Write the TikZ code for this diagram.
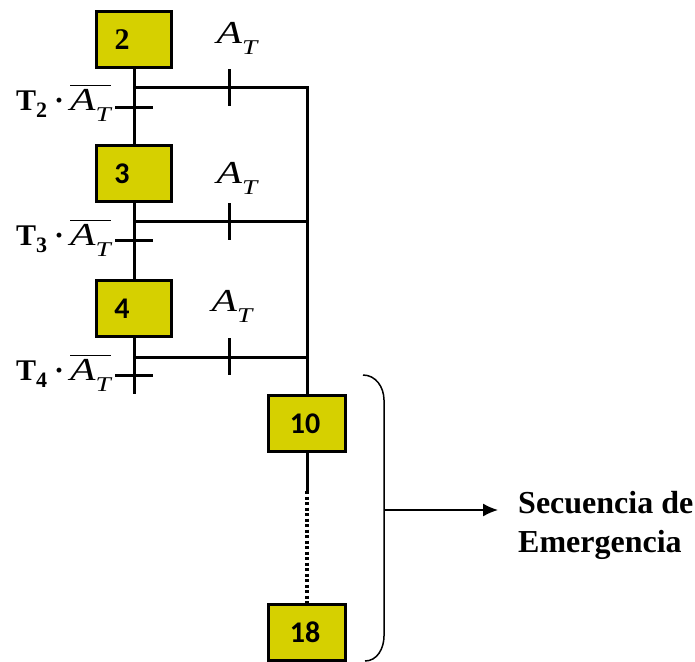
\documentclass[tikz,border=0pt]{standalone}
\usepackage{graphicx}
\usepackage{fontspec}
\setmainfont{Liberation Serif}
\newfontfamily\carlito{Carlito}
\usetikzlibrary{arrows.meta}
\definecolor{stepfill}{RGB}{214,208,0}
\newcommand\AT{\scalebox{1.3}[1]{\mdseries\itshape\fontsize{32}{32}\selectfont A\raisebox{-11pt}{\fontsize{21}{21}\selectfont T}}}
\newcommand\barAT{\vbox{\hrule height 1.3pt\kern 3pt\hbox{\AT}}}
\newcommand\trlabel[1]{\bfseries T\raisebox{-7pt}{\fontsize{22}{22}\selectfont #1}\kern7pt\textperiodcentered\kern6pt\barAT}
\begin{document}
\begin{tikzpicture}[x=1pt,y=-1pt,
  stepbox/.style={draw, line width=3pt, fill=stepfill, minimum width=75pt,
    minimum height=56pt, inner sep=0pt},
  numsans/.style={font=\carlito\bfseries\fontsize{30}{30}\selectfont},
  numserif/.style={font=\rmfamily\bfseries\fontsize{30}{30}\selectfont},
  flow/.style={line width=3pt, line join=miter},
  tick/.style={line width=3pt},
  atlabel/.style={inner sep=0pt, font=\fontsize{30}{30}\selectfont},
  trlab/.style={inner sep=0pt, anchor=base east, font=\fontsize{30}{30}\selectfont},
  thinline/.style={line width=1.5pt},
  emtext/.style={inner sep=0pt, anchor=base west, font=\bfseries\fontsize{32}{38}\selectfont}]
\useasboundingbox (0,0) rectangle (695,661);
\begin{scope}
\clip (0,0) rectangle (695,661);
% steps
\node[stepbox, numserif] (s2) at (134,39.5) {\makebox[0pt]{\hspace{-24pt}\raisebox{-3pt}{2}}};
\node[stepbox, numsans] (s3) at (134,173.5) {\makebox[0pt]{\hspace{-24pt}\raisebox{-3pt}{3}}};
\node[stepbox, numsans] (s4) at (134,308.5) {\makebox[0pt]{\hspace{-24pt}\raisebox{-3pt}{4}}};
\node[stepbox, numsans, minimum width=77pt] (s10) at (307,423.5) {\makebox[0pt]{\hspace{-4pt}\raisebox{-3pt}{10}}};
\node[stepbox, numsans, minimum width=77pt] (s18) at (307,632.5) {\makebox[0pt]{\hspace{-4pt}\raisebox{-3pt}{18}}};
% coordinates
\coordinate (j2) at (134,87);
\coordinate (j3) at (134,221);
\coordinate (j4) at (134,357);
\coordinate (c2) at (307,87);
\coordinate (c3) at (307,221);
\coordinate (c4) at (307,357);
\coordinate (e4) at (134,394);
\coordinate (d1) at (307,491);
% main sequence
\draw[flow] (s2) -- (s3);
\draw[flow] (s3) -- (s4);
\draw[flow] (s4) -- (e4);
% branches
\draw[flow] (j2) -- (c2) -- (s10.north);
\draw[flow] (j3) -- (c3);
\draw[flow] (j4) -- (c4);
% transitions on branches
\draw[tick] (229,69) -- (229,106);
\draw[tick] (229,203) -- (229,240);
\draw[tick] (229,338) -- (229,375);
% transitions on main line
\draw[tick] (115,107) -- (153,107);
\draw[tick] (115,240) -- (153,240);
\draw[tick] (115,375) -- (153,375);
% labels
\node[atlabel] (a2) at (237,38) {\AT};
\node[atlabel] (a3) at (237,178) {\AT};
\node[atlabel] (a4) at (232,306) {\AT};
\node[trlab] (t2) at (111,110) {\trlabel{2}};
\node[trlab] (t3) at (111,245) {\trlabel{3}};
\node[trlab] (t4) at (111,380) {\trlabel{4}};
% emergency sequence
\draw[flow] (s10) -- (d1);
\draw[line width=3.4pt, dash pattern=on 3pt off 2.5pt] (d1) -- (s18.north);
% brace
\coordinate (bm) at (384,510);
\coordinate (ae) at (498,510);
\draw[thinline] (363,375) to[out=0,in=90] (384,400) -- (384,636) to[out=-90,in=0] (365,661);
\draw[thinline, -{Latex[length=15pt,width=13pt]}] (bm) -- (ae);
\node[emtext] (em1) at (518,513) {Secuencia de};
\node[emtext] (em2) at (518,552) {Emergencia};
\end{scope}
\end{tikzpicture}
\end{document}
